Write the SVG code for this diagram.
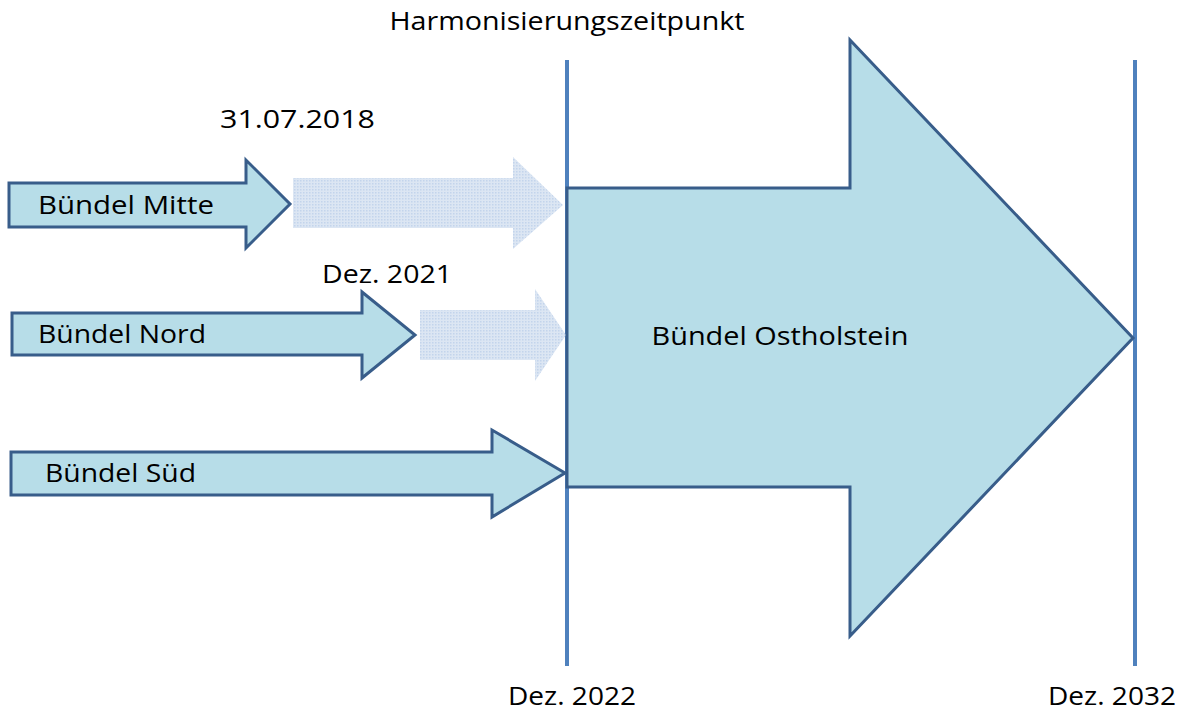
<svg xmlns="http://www.w3.org/2000/svg" width="1189" height="711" viewBox="0 0 1189 711">
<style>
.arr{fill:#B7DDE8;stroke:#385D8A;stroke-width:3;stroke-linejoin:miter}
.fade{fill:url(#dots)}
.vl{stroke:#4F81BD;stroke-width:4}
text{font-family:"Open Sans","Liberation Sans",sans-serif;font-size:25px;fill:#000}
</style>
<defs>
<pattern id="dots" width="3" height="3" patternUnits="userSpaceOnUse">
<rect width="3" height="3" fill="#DCE6F3"/>
<rect width="1.5" height="1.5" fill="#C3D4EC"/>
</pattern>
</defs>
<g id="guides">
<line class="vl" x1="567" y1="60" x2="567" y2="666"/>
<line class="vl" x1="1135" y1="60" x2="1135" y2="666"/>
</g>
<g id="fade-mitte"><polygon class="fade" points="293,178 513,178 513,157 563,205 513,249 513,228 293,228"/></g>
<g id="fade-nord"><polygon class="fade" points="420,310 535,310 535,289 566,335 535,381 535,360 420,360"/></g>
<g id="ostholstein">
<polygon class="arr" points="567,188 850,188 850,40 1133,338 850,636 850,487 567,487"/>
<text x="780" y="345" text-anchor="middle" textLength="257" lengthAdjust="spacingAndGlyphs">Bündel Ostholstein</text>
</g>
<g id="mitte">
<polygon class="arr" points="9,183 246,183 246,160 290,204 246,248 246,227 9,227"/>
<text x="38" y="214" textLength="176" lengthAdjust="spacingAndGlyphs">Bündel Mitte</text>
</g>
<g id="nord">
<polygon class="arr" points="12,313 362,313 362,292 415,335 362,378 362,355 12,355"/>
<text x="38" y="343" textLength="168" lengthAdjust="spacingAndGlyphs">Bündel Nord</text>
</g>
<g id="sued">
<polygon class="arr" points="11,452 492,452 492,430 565,473 492,517 492,495 11,495"/>
<text x="45" y="482" textLength="151" lengthAdjust="spacingAndGlyphs">Bündel Süd</text>
</g>
<g id="labels">
<text x="567" y="30" text-anchor="middle" textLength="355" lengthAdjust="spacingAndGlyphs">Harmonisierungszeitpunkt</text>
<text x="220" y="128" textLength="155" lengthAdjust="spacingAndGlyphs">31.07.2018</text>
<text x="322" y="283" textLength="130" lengthAdjust="spacingAndGlyphs">Dez. 2021</text>
<text x="508" y="705" textLength="128" lengthAdjust="spacingAndGlyphs">Dez. 2022</text>
<text x="1048" y="705" textLength="128" lengthAdjust="spacingAndGlyphs">Dez. 2032</text>
</g>
</svg>
